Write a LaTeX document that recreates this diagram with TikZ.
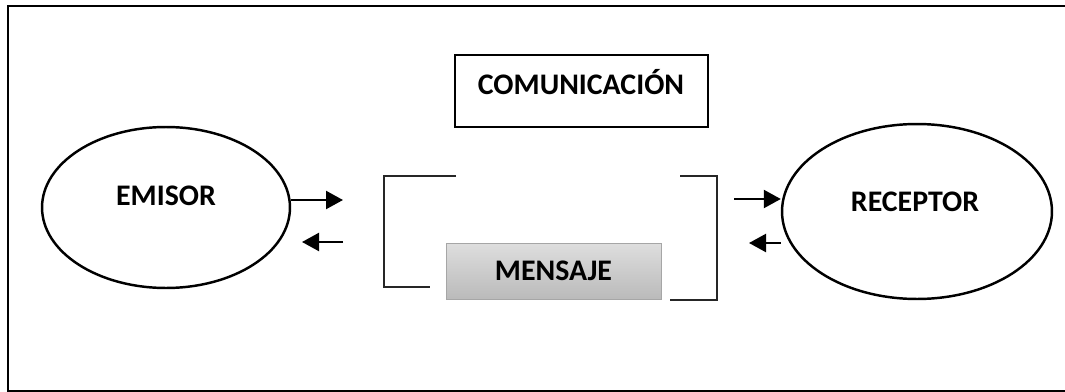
\documentclass[tikz,border=0pt]{standalone}
\usepackage{fontspec}
\setmainfont{Carlito}
\usetikzlibrary{shapes.geometric,arrows.meta}

\tikzset{
  globo/.style={draw, ellipse, line width=1.4pt, inner sep=0pt},
  rotulo/.style={font=\fontsize{17}{20}\selectfont\bfseries},
  flecha/.style={line width=1.3pt, -{Triangle[length=0.34cm, width=0.36cm]}},
  corchete/.style={line width=0.7pt, black!85}
}

\begin{document}
\begin{tikzpicture}[x=0.02cm, y=-0.02cm]
  \useasboundingbox (0,0) rectangle (1065,392);
  % marco
  \draw[line width=1.7pt] (1066,6) -- (8,6) -- (8,391) -- (1066,391);
  % titulo
  \node[draw, line width=1.1pt, minimum width=5.06cm, minimum height=1.44cm] (caja) at (581.5,91) {};
  \node[rotulo] (titulo) at (581,82) {COMUNICACIÓN};
  % emisor y receptor
  \node[globo, minimum width=4.96cm, minimum height=3.22cm] (emisor) at (166,207.5) {};
  \node[rotulo] (emisortxt) at (166,196) {EMISOR};
  \node[globo, minimum width=5.4cm, minimum height=3.5cm] (receptor) at (917,211.5) {};
  \node[rotulo] (receptortxt) at (915,202) {RECEPTOR};
  % mensaje
  \node[draw=black!35, top color=black!13, bottom color=black!27, minimum width=4.3cm, minimum height=1.12cm, rotulo] (mensaje) at (553.5,271) {MENSAJE};
  % corchetes
  \draw[corchete] (456,176) -- (384,176) -- (384,287) -- (430,287);
  \draw[corchete] (680,176) -- (717,176) -- (717,300) -- (670,300);
  % flechas
  \coordinate (e1) at (343,200);
  \coordinate (e2) at (343,242);
  \coordinate (e3) at (302,242);
  \coordinate (r1) at (734,199);
  \coordinate (r2) at (749,243);
  \draw[flecha] (emisor.east |- e1) -- (e1);
  \draw[flecha] (e2) -- (e3);
  \draw[flecha] (r1) -- (receptor.west |- r1);
  \draw[flecha] (receptor.west |- r2) -- (r2);
\end{tikzpicture}
\end{document}
